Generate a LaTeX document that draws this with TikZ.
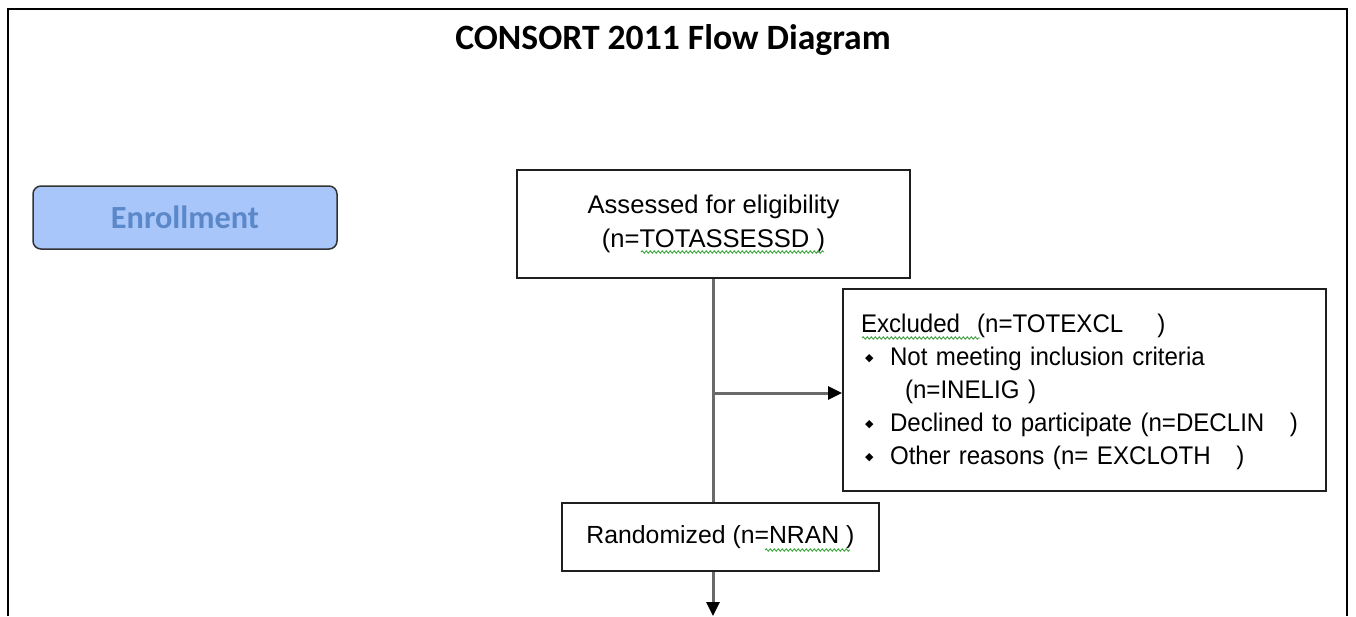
\documentclass[tikz,border=0pt]{standalone}
\usepackage{fontspec}
\setmainfont{Liberation Sans}
\newfontfamily\carlito{Carlito}
\newfontfamily\narrowE{Liberation Sans}[FakeStretch=0.945]
\newfontfamily\dejavu{DejaVu Sans}
\usetikzlibrary{arrows.meta,decorations.pathmorphing}
\definecolor{enrfill}{HTML}{A9C6FA}
\definecolor{enrtext}{HTML}{5B88C9}
\definecolor{linegray}{HTML}{6A6A6A}
\definecolor{squig}{HTML}{3FA33F}
\tikzset{
  box/.style={draw=black!88, line width=2pt, fill=white, inner sep=0pt},
  conn/.style={draw=linegray, line width=3pt},
  arr/.style={conn, -{Triangle[length=14pt,width=13pt,color=black]}},
  squiggle/.style={draw=squig, line width=0.9pt, decorate, decoration={snake, amplitude=1.2pt, segment length=4pt}},
}
\newcommand{\bul}{\makebox[29pt][l]{\hspace{4pt}\raisebox{4pt}{\dejavu\fontsize{11}{11}\selectfont ◆}}}
\begin{document}
\begin{tikzpicture}[x=1pt,y=-1pt]
\useasboundingbox (0,0) rectangle (1356,616);
\fill[white] (0,0) rectangle (1356,616);
\draw[line width=2.5pt] (8,616) -- (8,9) -- (1347,9) -- (1347,616);
\node[font=\carlito\bfseries\fontsize{35.6}{40}\selectfont] (title) at (673,40) {CONSORT 2011 Flow Diagram};
\node[draw=black!80, line width=1.5pt, fill=enrfill, rounded corners=8pt, minimum width=304pt, minimum height=63pt, text=enrtext, font=\carlito\bfseries\fontsize{32.3}{36}\selectfont] (enr) at (185,217.5) {Enrollment};
\node[box, align=center, minimum width=393pt, minimum height=108pt, font=\fontsize{25.6}{34}\selectfont] (assess) at (713.5,224) {Assessed for eligibility\\(n=TOTASSESSD )};
\node[box, align=left, text width=447pt, inner xsep=18pt, minimum height=202pt, font=\narrowE\fontsize{25.5}{33}\selectfont] (excl) at (1084.5,390) {};
\node[align=left, text width=447pt, inner sep=0pt, font=\narrowE\fontsize{25.5}{33}\selectfont] (excltext) at (1084.5,392)
  {Excluded\ \ (n=TOTEXCL\ \ \ \ )\\
   \bul Not meeting inclusion criteria\\
   \hspace{44pt}(n=INELIG )\\
   \bul Declined to participate (n=DECLIN\ \ \ )\\
   \bul Other reasons (n= EXCLOTH\ \ \ )};
\node[box, minimum width=317pt, minimum height=68pt, font=\fontsize{24.8}{28}\selectfont] (rand) at (720.5,537) {Randomized (n=NRAN )};
\coordinate (split) at (713,393);
\coordinate (bottom) at (713,616);
\draw[conn] (assess.south -| split) -- (rand.north -| split);
\draw[arr] (split) -- (split -| excl.west);
\draw[arr] (rand.south -| split) -- (bottom);
\draw[squiggle] (641,252) -- (824,252);
\draw[squiggle] (862,338) -- (980,338);
\draw[squiggle] (765,550) -- (850,550);
\end{tikzpicture}
\end{document}
